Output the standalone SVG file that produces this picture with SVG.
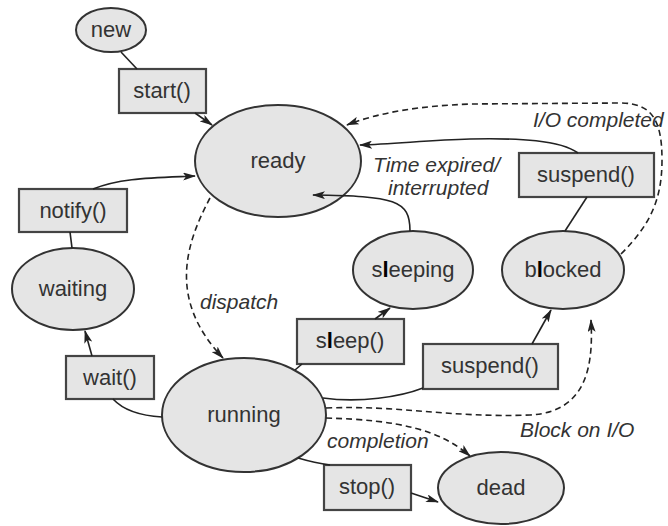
<svg xmlns="http://www.w3.org/2000/svg" width="668" height="526" viewBox="0 0 668 526">
<defs>
<marker id="ah" viewBox="0 0 13 8" refX="12" refY="4" markerWidth="13" markerHeight="8" markerUnits="userSpaceOnUse" orient="auto">
<path d="M0,0 L13,4 L0,8 L3,4 Z" fill="#222"/>
</marker>
</defs>
<style>
.st{fill:#e5e5e5;stroke:#333;stroke-width:2}
.bx{fill:#e5e5e5;stroke:#444;stroke-width:2.2}
.t{font-family:"Liberation Sans",Arial,sans-serif;font-size:22px;fill:#333;text-anchor:middle}
.lb{font-family:"Liberation Sans",Arial,sans-serif;font-size:21px;font-style:italic;fill:#333}
.c{fill:none;stroke:#222;stroke-width:1.6}
.d{fill:none;stroke:#222;stroke-width:1.6;stroke-dasharray:6 4}
.bl{font-weight:bold;fill:#000}
</style>
<rect width="668" height="526" fill="#fff"/>
<g id="new"><ellipse class="st" cx="111" cy="30" rx="35" ry="22"/><text class="t" x="111" y="37">new</text></g>
<g id="start"><rect class="bx" x="119" y="69" width="87" height="44"/><text class="t" x="162" y="98">start()</text></g>
<g id="ready"><ellipse class="st" cx="278" cy="161" rx="83" ry="56"/><text class="t" x="278" y="168">ready</text></g>
<g id="notify"><rect class="bx" x="19" y="189" width="108" height="43"/><text class="t" x="73" y="218">notify()</text></g>
<g id="waiting"><ellipse class="st" cx="73" cy="289" rx="61" ry="41"/><text class="t" x="73" y="296">waiting</text></g>
<g id="wait"><rect class="bx" x="66" y="356" width="88" height="43"/><text class="t" x="110" y="385">wait()</text></g>
<g id="running"><ellipse class="st" cx="244" cy="415" rx="82" ry="57"/><text class="t" x="244" y="422">running</text></g>
<g id="sleep"><rect class="bx" x="297" y="319" width="107" height="45"/><text class="t" x="350" y="348">s<tspan class="bl">l</tspan>eep()</text></g>
<g id="sleeping"><ellipse class="st" cx="413" cy="270" rx="60" ry="39"/><text class="t" x="413" y="277">s<tspan class="bl">l</tspan>eeping</text></g>
<g id="suspend-top"><rect class="bx" x="519" y="153" width="135" height="44"/><text class="t" x="586" y="182">suspend()</text></g>
<g id="blocked"><ellipse class="st" cx="563" cy="270" rx="61" ry="39"/><text class="t" x="563" y="277">b<tspan class="bl">l</tspan>ocked</text></g>
<g id="suspend-bottom"><rect class="bx" x="423" y="344" width="135" height="45"/><text class="t" x="490" y="373">suspend()</text></g>
<g id="stop"><rect class="bx" x="324" y="465" width="87" height="45"/><text class="t" x="367" y="494">stop()</text></g>
<g id="dead"><ellipse class="st" cx="501" cy="488" rx="63" ry="36"/><text class="t" x="501" y="495">dead</text></g>
<g id="connectors">
<path class="c" d="M121,52 L137,69"/>
<path class="c" d="M195,113 L212,125" marker-end="url(#ah)"/>
<path class="c" d="M93,189 C120,178 150,178 195,176" marker-end="url(#ah)"/>
<path class="c" d="M70,232 L72,248"/>
<path class="c" d="M92,356 L85,331" marker-end="url(#ah)"/>
<path class="c" d="M113,399 C125,412 145,416 162,417"/>
<path class="d" d="M210,198 C185,245 168,300 223,358" marker-end="url(#ah)"/>
<path class="c" d="M295,370 L302,364"/>
<path class="c" d="M375,319 L390,308" marker-end="url(#ah)"/>
<path class="c" d="M410,231 C410,200 395,196 313,195" marker-end="url(#ah)"/>
<path class="c" d="M578,153 C560,140 520,138 470,139 C430,140 395,144 360,145" marker-end="url(#ah)"/>
<path class="c" d="M587,197 L565,231"/>
<path class="d" d="M621,254 C650,225 662,200 662,160 C662,120 652,103 620,103 L470,104 C420,106 380,112 347,125" marker-end="url(#ah)"/>
<path class="c" d="M532,344 L551,310" marker-end="url(#ah)"/>
<path class="c" d="M323,398 C360,403 400,397 423,388"/>
<path class="d" d="M326,408 C400,405 450,418 530,415 C590,412 593,360 591,320" marker-end="url(#ah)"/>
<path class="d" d="M326,418 C400,420 440,430 470,456" marker-end="url(#ah)"/>
<path class="c" d="M298,458 Q315,463 330,465"/>
<path class="c" d="M411,493 L438,502" marker-end="url(#ah)"/>
</g>
<g id="labels">
<text class="lb" x="533" y="127">I/O completed</text>
<text class="lb" x="373" y="172">Time expired/</text>
<text class="lb" x="388" y="195">interrupted</text>
<text class="lb" x="200" y="309">dispatch</text>
<text class="lb" x="520" y="437">Block on I/O</text>
<text class="lb" x="327" y="448">completion</text>
</g>
</svg>
